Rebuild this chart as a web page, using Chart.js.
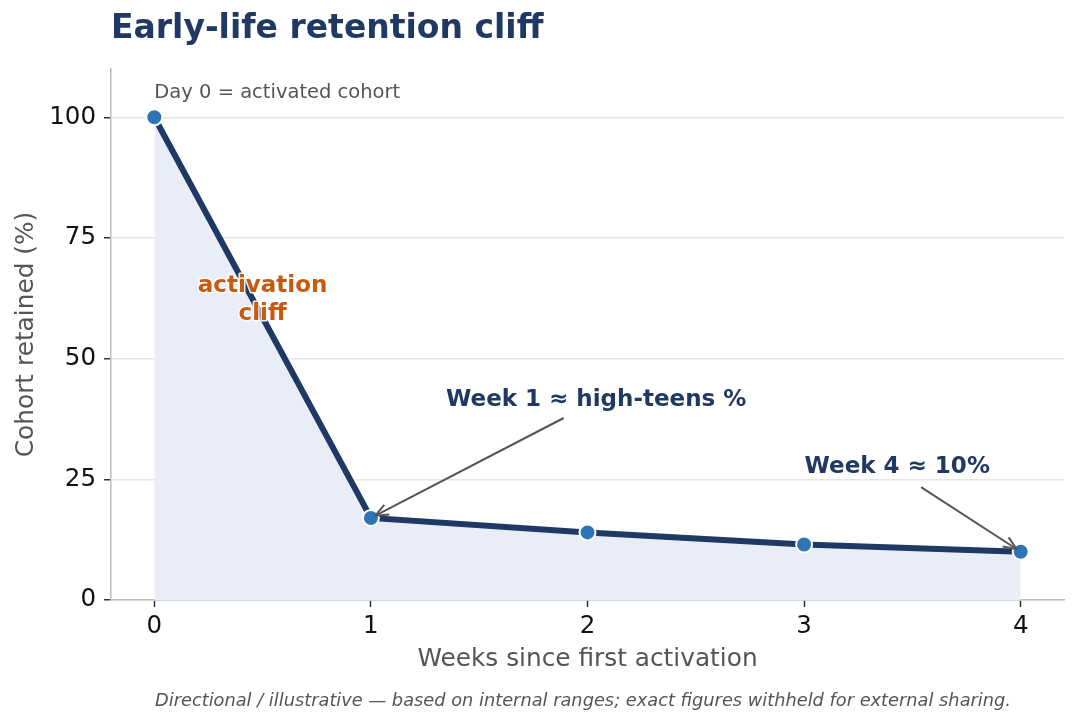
<!DOCTYPE html>
<html><head><meta charset="utf-8">
<script src="https://cdn.jsdelivr.net/npm/chart.js@4/dist/chart.umd.min.js"></script>
<style>html,body{margin:0;padding:0;background:#fff;}#wrap{width:1079px;height:726px;}</style>
</head><body><div id="wrap"><canvas id="c" width="1079" height="726"></canvas></div>
<script>
const weeks = [0, 1, 2, 3, 4];
const retained = [100, 17, 14, 11.5, 10];
const yTicks = [0, 25, 50, 75, 100];
const xTicks = [0, 1, 2, 3, 4];
const titleText = "Early-life retention cliff";
const footText = "Directional / illustrative \u2014 based on internal ranges; exact figures withheld for external sharing.";
const notes = [
  {text: "Week 1 \u2248 high-teens %", x: 2.04, y: 41.4, from: [1.89, 37.7], to: [1, 17]},
  {text: "Week 4 \u2248 10%", x: 3.43, y: 27.6, from: [3.54, 23.4], to: [4, 10]}
];
const FONT = "'DejaVu Sans', sans-serif";

const annot = {
  id: 'annot',
  afterDatasetsDraw(chart) {
    const ctx = chart.ctx, xs = chart.scales.x, ys = chart.scales.y, ca = chart.chartArea;
    ctx.save();
    // title
    ctx.fillStyle = '#1f3864';
    ctx.font = "bold 33px " + FONT;
    ctx.textAlign = 'left'; ctx.textBaseline = 'middle';
    ctx.fillText(titleText, ca.left, 29);
    // footnote
    ctx.fillStyle = '#555';
    ctx.font = "italic 17.8px " + FONT;
    ctx.textAlign = 'center';
    ctx.fillText(footText, (ca.left + ca.right) / 2 - 4.5, 701);
    // day 0
    ctx.fillStyle = '#555';
    ctx.font = "19.5px " + FONT;
    ctx.textAlign = 'left';
    ctx.fillText("Day 0 = activated cohort", xs.getPixelForValue(0), ys.getPixelForValue(105));
    // activation cliff
    ctx.font = "bold 23px " + FONT;
    ctx.textAlign = 'center';
    ctx.lineWidth = 3; ctx.strokeStyle = 'rgba(255,255,255,0.9)'; ctx.lineJoin = 'round';
    ctx.fillStyle = '#c55a11';
    [["activation", 65], ["cliff", 59.2]].forEach(([t, v]) => {
      const px = xs.getPixelForValue(0.5), py = ys.getPixelForValue(v);
      ctx.strokeText(t, px, py); ctx.fillText(t, px, py);
    });
    // arrows + notes
    notes.forEach(n => {
      const x1 = xs.getPixelForValue(n.from[0]), y1 = ys.getPixelForValue(n.from[1]);
      let x2 = xs.getPixelForValue(n.to[0]), y2 = ys.getPixelForValue(n.to[1]);
      const ang = Math.atan2(y2 - y1, x2 - x1);
      x2 -= Math.cos(ang) * 5; y2 -= Math.sin(ang) * 5;
      ctx.strokeStyle = '#555'; ctx.lineWidth = 2;
      ctx.beginPath(); ctx.moveTo(x1, y1); ctx.lineTo(x2, y2); ctx.stroke();
      const h = 14, s = 0.4;
      ctx.beginPath();
      ctx.moveTo(x2 - h * Math.cos(ang - s), y2 - h * Math.sin(ang - s));
      ctx.lineTo(x2, y2);
      ctx.lineTo(x2 - h * Math.cos(ang + s), y2 - h * Math.sin(ang + s));
      ctx.stroke();
      ctx.fillStyle = '#1f3864';
      ctx.font = "bold 23px " + FONT;
      ctx.textAlign = 'center';
      ctx.fillText(n.text, xs.getPixelForValue(n.x), ys.getPixelForValue(n.y));
    });
    ctx.restore();
  }
};

new Chart(document.getElementById('c'), {
  type: 'line',
  data: {
    datasets: [{
      data: weeks.map((w, i) => ({x: w, y: retained[i]})),
      borderColor: '#1f3864', borderWidth: 6,
      backgroundColor: '#e9edf7', fill: 'origin',
      pointRadius: 8, pointBackgroundColor: '#2e75b6', pointBorderColor: '#fff', pointBorderWidth: 2,
      tension: 0
    }]
  },
  options: {
    responsive: false, animation: false, devicePixelRatio: 1,
    layout: {padding: {top: 69, right: 15, left: 0, bottom: 0}},
    plugins: {legend: {display: false}, tooltip: {enabled: false}},
    scales: {
      x: {
        type: 'linear', min: -0.2, max: 4.2,
        afterBuildTicks: s => { s.ticks = xTicks.map(v => ({value: v})); },
        afterFit: s => { s.height = 126; },
        grid: {color: 'rgba(0,0,0,0)', tickColor: '#333', tickLength: 7, tickWidth: 1.5, drawOnChartArea: false},
        border: {color: '#bbb', width: 1.5},
        ticks: {color: '#111', font: {family: FONT, size: 24.5}, padding: 5},
        title: {display: true, text: 'Weeks since first activation', color: '#555', font: {family: FONT, size: 24.8}, padding: {top: 0, bottom: 52}}
      },
      y: {
        min: 0, max: 110,
        afterBuildTicks: s => { s.ticks = yTicks.map(v => ({value: v})); },
        afterFit: s => { s.width = 111; },
        grid: {color: '#e6e6e6', lineWidth: 1.5, tickColor: '#333', tickLength: 7, tickWidth: 1.5},
        border: {color: '#bbb', width: 1.5},
        ticks: {color: '#111', font: {family: FONT, size: 24.5}, padding: 8},
        title: {display: true, text: 'Cohort retained (%)', color: '#555', font: {family: FONT, size: 24.8}, padding: {top: 12, bottom: 0}}
      }
    }
  },
  plugins: [annot]
});
</script></body></html>
